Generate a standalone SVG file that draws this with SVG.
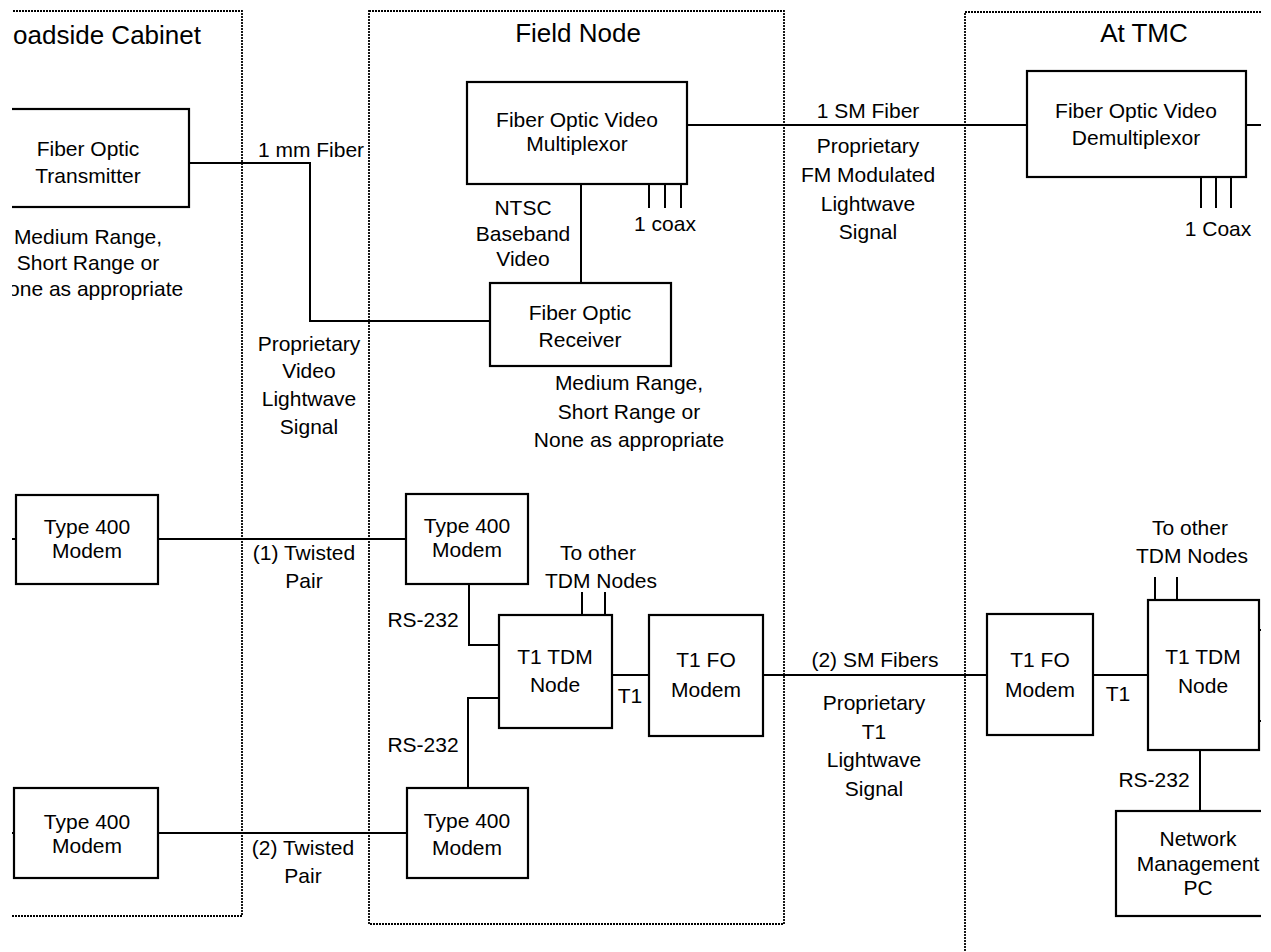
<svg xmlns="http://www.w3.org/2000/svg" width="1271" height="952" viewBox="0 0 1271 952">
<defs>
<clipPath id="clip"><rect x="12" y="0" width="1249" height="952"/></clipPath>
</defs>
<style>
.zone{fill:none;stroke:#000;stroke-width:1.8;stroke-dasharray:2 1}
.box{fill:#fff;stroke:#000;stroke-width:2.2}
.ln{fill:none;stroke:#000;stroke-width:2}
text{font-family:"Liberation Sans",Arial,sans-serif;font-size:21px;fill:#000;text-anchor:middle}
.title{font-size:26px}
</style>
<rect width="1271" height="952" fill="#fff"/>
<g clip-path="url(#clip)">
<g id="zones">
<rect class="zone" x="-20" y="11" width="262" height="905"/>
<rect class="zone" x="369" y="11" width="415" height="913"/>
<path class="zone" d="M965,960 V12 H1290"/>
<text class="title" x="201" y="44" style="text-anchor:end">Roadside Cabinet</text>
<text class="title" x="578" y="42">Field Node</text>
<text class="title" x="1144" y="42">At TMC</text>
</g>
<g id="connectors">
<path class="ln" d="M189,163 H310 V321 H490"/>
<path class="ln" d="M687,125 H1027"/>
<path class="ln" d="M1246,125 H1262"/>
<path class="ln" d="M581,184 V283"/>
<path class="ln" d="M649,184 V208 M665,184 V208 M681,184 V208"/>
<path class="ln" d="M1201,177 V208 M1216,177 V208 M1231,177 V208"/>
<path class="ln" d="M10,539 H16 M158,539 H406"/>
<path class="ln" d="M10,833 H14 M158,833 H407"/>
<path class="ln" d="M469,584 V645 H499"/>
<path class="ln" d="M499,698 H468 V788"/>
<path class="ln" d="M582,592 V615 M605,592 V615"/>
<path class="ln" d="M612,675 H649"/>
<path class="ln" d="M763,675 H987"/>
<path class="ln" d="M1093,675 H1148"/>
<path class="ln" d="M1155,577 V600 M1177,577 V600"/>
<path class="ln" d="M1259,630 H1264 M1259,721 H1264"/>
<path class="ln" d="M1200,750 V811"/>
</g>
<g id="labels">
<text x="311" y="157">1 mm Fiber</text>
<text x="88" y="244">Medium Range,</text>
<text x="88" y="270">Short Range or</text>
<text x="88" y="296">None as appropriate</text>
<text x="309" y="351">Proprietary</text>
<text x="309" y="378">Video</text>
<text x="309" y="406">Lightwave</text>
<text x="309" y="434">Signal</text>
<text x="523" y="215">NTSC</text>
<text x="523" y="241">Baseband</text>
<text x="523" y="266">Video</text>
<text x="665" y="231">1 coax</text>
<text x="629" y="390">Medium Range,</text>
<text x="629" y="419">Short Range or</text>
<text x="629" y="447">None as appropriate</text>
<text x="868" y="118">1 SM Fiber</text>
<text x="868" y="153">Proprietary</text>
<text x="868" y="182">FM Modulated</text>
<text x="868" y="211">Lightwave</text>
<text x="868" y="239">Signal</text>
<text x="1218" y="236">1 Coax</text>
<text x="304" y="560">(1) Twisted</text>
<text x="304" y="588">Pair</text>
<text x="303" y="855">(2) Twisted</text>
<text x="303" y="883">Pair</text>
<text x="423" y="627">RS-232</text>
<text x="423" y="752">RS-232</text>
<text x="598" y="560">To other</text>
<text x="601" y="588">TDM Nodes</text>
<text x="630" y="703">T1</text>
<text x="875" y="667">(2) SM Fibers</text>
<text x="874" y="710">Proprietary</text>
<text x="874" y="739">T1</text>
<text x="874" y="767">Lightwave</text>
<text x="874" y="796">Signal</text>
<text x="1118" y="701">T1</text>
<text x="1190" y="535">To other</text>
<text x="1192" y="563">TDM Nodes</text>
<text x="1154" y="787">RS-232</text>
</g>
<g id="fo-transmitter">
<rect class="box" x="-14" y="109" width="203" height="98"/>
<text x="88" y="156">Fiber Optic</text>
<text x="88" y="183">Transmitter</text>
</g>
<g id="fo-mux">
<rect class="box" x="467" y="82" width="220" height="102"/>
<text x="577" y="127">Fiber Optic Video</text>
<text x="577" y="151">Multiplexor</text>
</g>
<g id="fo-receiver">
<rect class="box" x="490" y="283" width="181" height="83"/>
<text x="580" y="320">Fiber Optic</text>
<text x="580" y="347">Receiver</text>
</g>
<g id="fo-demux">
<rect class="box" x="1027" y="71" width="219" height="106"/>
<text x="1136" y="118">Fiber Optic Video</text>
<text x="1136" y="145">Demultiplexor</text>
</g>
<g id="modem-rc-1">
<rect class="box" x="16" y="495" width="142" height="89"/>
<text x="87" y="534">Type 400</text>
<text x="87" y="558">Modem</text>
</g>
<g id="modem-rc-2">
<rect class="box" x="14" y="788" width="144" height="90"/>
<text x="87" y="829">Type 400</text>
<text x="87" y="853">Modem</text>
</g>
<g id="modem-fn-1">
<rect class="box" x="406" y="494" width="122" height="90"/>
<text x="467" y="533">Type 400</text>
<text x="467" y="557">Modem</text>
</g>
<g id="modem-fn-2">
<rect class="box" x="407" y="788" width="121" height="90"/>
<text x="467" y="828">Type 400</text>
<text x="467" y="855">Modem</text>
</g>
<g id="tdm-fn">
<rect class="box" x="499" y="615" width="113" height="113"/>
<text x="555" y="664">T1 TDM</text>
<text x="555" y="692">Node</text>
</g>
<g id="fo-modem-fn">
<rect class="box" x="649" y="615" width="114" height="121"/>
<text x="706" y="667">T1 FO</text>
<text x="706" y="697">Modem</text>
</g>
<g id="fo-modem-tmc">
<rect class="box" x="987" y="614" width="106" height="121"/>
<text x="1040" y="667">T1 FO</text>
<text x="1040" y="697">Modem</text>
</g>
<g id="tdm-tmc">
<rect class="box" x="1148" y="600" width="111" height="150"/>
<text x="1203" y="664">T1 TDM</text>
<text x="1203" y="693">Node</text>
</g>
<g id="nm-pc">
<rect class="box" x="1116" y="811" width="164" height="105"/>
<text x="1198" y="846">Network</text>
<text x="1198" y="871">Management</text>
<text x="1198" y="895">PC</text>
</g>
</g>
</svg>
